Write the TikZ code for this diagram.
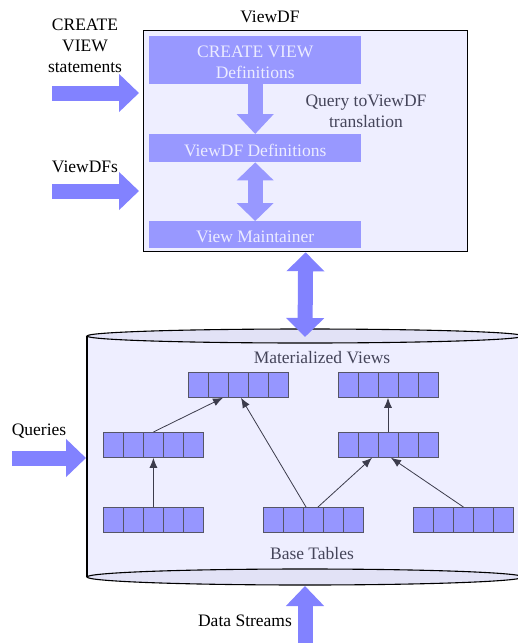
\documentclass[tikz,border=0pt]{standalone}
\usepackage{fontspec}
\setmainfont{Liberation Serif}
\usetikzlibrary{arrows.meta}
\definecolor{boxbg}{HTML}{EEEEFF}
\definecolor{ellbg}{HTML}{E2E2F6}
\definecolor{innerblue}{HTML}{9898FF}
\definecolor{outerblue}{HTML}{8282FF}
\definecolor{intext}{HTML}{ECECFF}
\definecolor{graytext}{HTML}{45455A}
\definecolor{cellblue}{HTML}{9696FF}
\definecolor{cellline}{HTML}{555566}
\definecolor{thinarrow}{HTML}{3C3C4C}
\tikzset{
  lbl/.style={font=\fontsize{17.5}{21}\selectfont, align=center, inner sep=0pt},
  graylbl/.style={lbl, text=graytext},
  intxt/.style={lbl, text=intext},
  outerbox/.style={draw=black, line width=1.3pt, fill=boxbg, inner sep=0pt, anchor=north west},
  innerbox/.style={fill=innerblue, inner sep=0pt, anchor=north west, minimum width=212pt},
  blockin/.style={draw=innerblue, line width=15pt, -{Triangle[length=20pt,width=36pt]}},
  dblockin/.style={draw=innerblue, line width=15pt, {Triangle[length=18pt,width=36pt]}-{Triangle[length=18pt,width=36pt]}},
  blockout/.style={draw=outerblue, line width=15pt, -{Triangle[length=20pt,width=37pt]}},
  dblockout/.style={draw=outerblue, line width=15pt, {Triangle[length=19pt,width=37pt]}-{Triangle[length=19pt,width=37pt]}},
  tabbox/.style={draw=cellline, fill=cellblue, minimum width=100pt, minimum height=25pt, inner sep=0pt, line width=0.8pt, anchor=north west},
  cellsep/.style={draw=cellline, line width=0.8pt},
  thin/.style={draw=thinarrow, line width=0.8pt, -{Latex[length=10pt,width=8pt]}},
  cyl/.style={draw=black, line width=1.1pt}
}
\newcommand\mktable[3]{%
  \node[tabbox] (#1) at (#2,#3) {};
  \foreach \k in {1,...,4} \draw[cellsep] ([xshift=\k*20pt]#1.north west) -- ([xshift=\k*20pt]#1.south west);
}
\begin{document}
\begin{tikzpicture}[x=1pt,y=-1pt]
\useasboundingbox (0,0) rectangle (518,643);
\fill[white] (0,0) rectangle (518,643);

% ---- top ViewDF box ----
\node[outerbox, minimum width=324pt, minimum height=221pt] (vbox) at (143,30) {};
\node[lbl] (vlabel) at (270,17) {ViewDF};
\node[innerbox, minimum height=48pt] (cv) at (149,36) {};
\node[innerbox, minimum height=28pt] (vd) at (149,134) {};
\node[innerbox, minimum height=27pt] (vm) at (149,221) {};
\node[intxt] (cvt) at ([yshift=-2.5pt]cv.center) {CREATE VIEW\\Definitions};
\node[intxt] (vdt) at ([yshift=-2pt]vd.center) {ViewDF Definitions};
\node[intxt] (vmt) at ([yshift=-2pt]vm.center) {View Maintainer};
\draw[blockin] (cv.south) -- (vd.north);
\draw[dblockin] (vd.south) -- (vm.north);
\node[graylbl] (qt) at (366,111) {Query toViewDF\\translation};

% ---- left inputs ----
\node[lbl] (cvs) at (85,46) {CREATE\\VIEW\\statements};
\coordinate (cvsA) at (52,93);
\coordinate (cvsB) at (139,93);
\draw[blockout] (cvsA) -- (cvsB);
\node[lbl] (vdfs) at (85,167) {ViewDFs};
\coordinate (vdfA) at (52,191);
\coordinate (vdfB) at (139,191);
\draw[blockout] (vdfA) -- (vdfB);

% ---- cylinder ----
\fill[boxbg] (87,336) rectangle (523,577);
\draw[cyl] (87,336) -- (87,577);
\draw[cyl] (523,336) -- (523,577);
\draw[cyl, fill=ellbg] (305,577) ellipse [x radius=218, y radius=8];
\draw[cyl, fill=ellbg] (305,336) ellipse [x radius=218, y radius=7];
\coordinate (cyltop) at (305,337);
\coordinate (cylbot) at (305,586);
\draw[dblockout] (vbox.south) -- (cyltop);

\node[graylbl] (mvl) at (322,358) {Materialized Views};
\node[graylbl] (btl) at (312,554) {Base Tables};

\mktable{mv1}{188}{372}
\mktable{mv2}{338}{372}
\mktable{ml}{103}{432}
\mktable{mr}{338}{432}
\mktable{bl}{103}{507}
\mktable{bm}{263}{507}
\mktable{br}{413}{507}

\draw[thin] (ml.north) -- ([xshift=35pt]mv1.south west);
\draw[thin] (bl.north) -- (ml.south);
\draw[thin] ([xshift=43pt]bm.north west) -- ([xshift=53pt]mv1.south west);
\draw[thin] ([xshift=55pt]bm.north west) -- ([xshift=34pt]mr.south west);
\draw[thin] (br.north) -- ([xshift=53pt]mr.south west);
\draw[thin] ([xshift=50pt]mr.north west) -- ([xshift=50pt]mv2.south west);

% ---- queries / data streams ----
\node[lbl] (ql) at (39,431) {Queries};
\coordinate (qA) at (12,458);
\coordinate (qB) at (86,458);
\draw[blockout] (qA) -- (qB);

\node[lbl] (dsl) at (245,621) {Data Streams};
\coordinate (dsA) at (305,643);
\draw[blockout] (dsA) -- (cylbot);
\end{tikzpicture}
\end{document}
